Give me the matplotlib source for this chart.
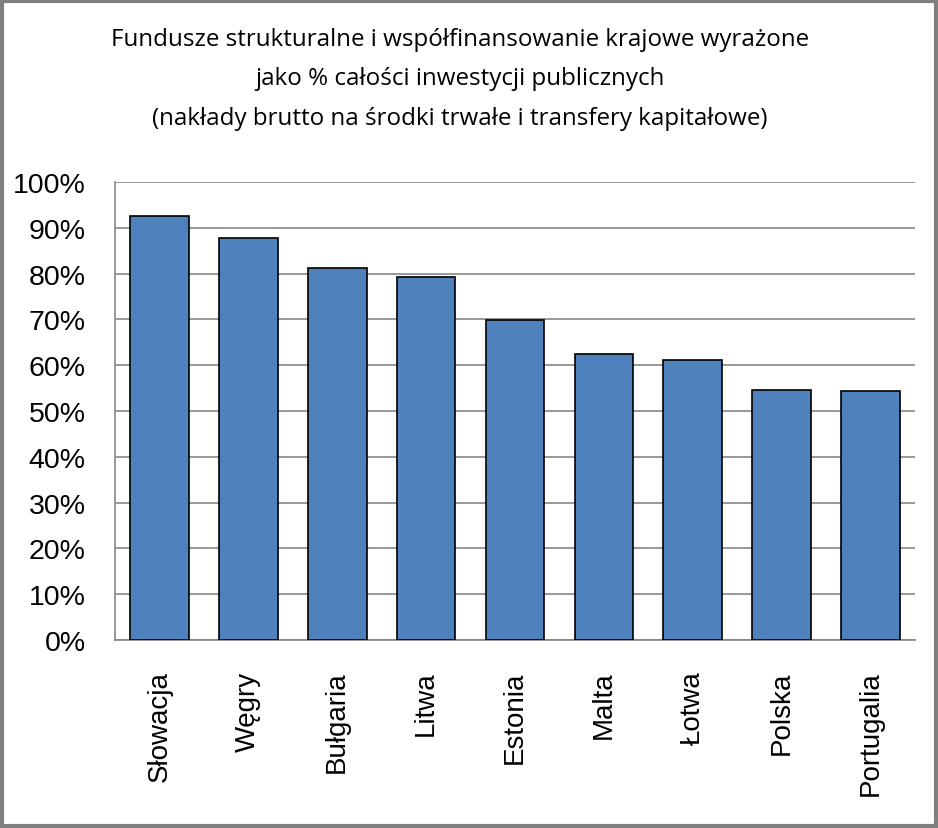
import matplotlib.pyplot as plt
from matplotlib.patches import Rectangle
from matplotlib.ticker import PercentFormatter

kraje = ['Słowacja', 'Węgry', 'Bułgaria', 'Litwa', 'Estonia', 'Malta', 'Łotwa', 'Polska', 'Portugalia']
udzial = [92.6, 87.8, 81.2, 79.3, 69.9, 62.4, 61.1, 54.6, 54.4]

tytul = ('Fundusze strukturalne i współfinansowanie krajowe wyrażone\n'
         'jako % całości inwestycji publicznych\n'
         '(nakłady brutto na środki trwałe i transfery kapitałowe)')

plt.rcParams['font.family'] = ['Open Sans', 'DejaVu Sans']

fig = plt.figure(figsize=(9.38, 8.29), dpi=100)
ax = fig.add_axes([115 / 938, 1 - 641 / 829, 800 / 938, 458 / 829])

x = range(len(kraje))
ax.bar(x, udzial, width=0.66, color='#4F81BD', edgecolor='black', linewidth=1.2, zorder=3)

ax.set_xlim(-0.5, len(kraje) - 0.5)
ax.set_ylim(0, 100)
ax.set_yticks(range(0, 101, 10))
ax.yaxis.set_major_formatter(PercentFormatter(decimals=0))
ax.grid(axis='y', color='#868686', linewidth=1.2, zorder=0)
ax.set_xticks(list(x))
ax.set_xticklabels(kraje, rotation=90, family=['Liberation Sans', 'DejaVu Sans'], fontsize=20)
ax.tick_params(axis='x', length=0, pad=22)
ax.tick_params(axis='y', length=0, pad=21, labelsize=20.5)
for t in ax.get_yticklabels():
    t.set_fontfamily(['Liberation Sans', 'DejaVu Sans'])

for s in ['top', 'right']:
    ax.spines[s].set_visible(False)
for s in ['left', 'bottom']:
    ax.spines[s].set_color('#868686')
    ax.spines[s].set_linewidth(1.2)

fig.text(0.490, 0.966, tytul, ha='center', va='top', fontsize=17.4, linespacing=1.85)

fig.patches.append(Rectangle((0.002, 0.002), 0.996, 0.996, transform=fig.transFigure,
                             fill=False, edgecolor='#7F7F7F', linewidth=3))

plt.savefig('out.png', dpi=100)
